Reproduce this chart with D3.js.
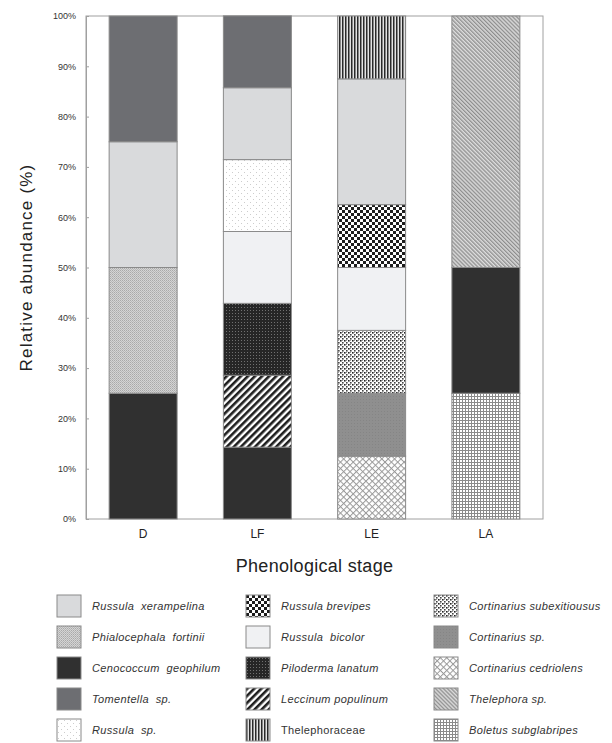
<!DOCTYPE html>
<head>
  <meta charset="utf-8">
  <script src="https://d3js.org/d3.v7.min.js"></script>
  <style>
    body { margin:0; background:#fff; }
    text { font-family: "Liberation Sans", Arial, sans-serif; fill:#222; }
  </style>
</head>

<body>
  <script>

    var width = 612,
        height = 743;

    // phenological stages and taxa (stack order, bottom to top)
    var stages = ["D", "LF", "LE", "LA"];
    var taxa = ["Boletus subglabripes", "Cortinarius cedriolens", "Cortinarius sp.", "Cenococcum geophilum",
                "Cortinarius subexitiousus", "Leccinum populinum", "Phialocephala fortinii", "Piloderma lanatum",
                "Russula bicolor", "Russula brevipes", "Russula sp.", "Russula xerampelina",
                "Thelephora sp.", "Thelephoraceae", "Tomentella sp."];

    // relative abundance (%) per stage, same order as taxa
    var abundD  = [0, 0, 0, 25, 0, 0, 25, 0, 0, 0, 0, 25, 0, 0, 25];
    var abundLF = [0, 0, 0, 14.29, 0, 14.29, 0, 14.29, 14.29, 0, 14.29, 14.29, 0, 0, 14.29];
    var abundLE = [0, 12.5, 12.5, 0, 12.5, 0, 0, 0, 12.5, 12.5, 0, 25, 0, 12.5, 0];
    var abundLA = [25, 0, 0, 25, 0, 0, 0, 0, 0, 0, 0, 0, 50, 0, 0];

    var yTicks = [0, 10, 20, 30, 40, 50, 60, 70, 80, 90, 100];

    // legend columns
    var legendCols = [
      ["Russula xerampelina", "Phialocephala fortinii", "Cenococcum geophilum", "Tomentella sp.", "Russula sp."],
      ["Russula brevipes", "Russula bicolor", "Piloderma lanatum", "Leccinum populinum", "Thelephoraceae"],
      ["Cortinarius subexitiousus", "Cortinarius sp.", "Cortinarius cedriolens", "Thelephora sp.", "Boletus subglabripes"]
    ];
    var legendText = {
      "Russula xerampelina": "Russula  xerampelina",
      "Phialocephala fortinii": "Phialocephala  fortinii",
      "Cenococcum geophilum": "Cenococcum  geophilum",
      "Tomentella sp.": "Tomentella  sp.",
      "Russula sp.": "Russula  sp.",
      "Russula bicolor": "Russula  bicolor"
    };

    var svg = d3.select("body").append("svg")
      .attr("width", width)
      .attr("height", height);

    var defs = svg.append("defs");

    function pat(id, w, h, bg, rot) {
      var p = defs.append("pattern").attr("id", id)
        .attr("patternUnits", "userSpaceOnUse")
        .attr("width", w).attr("height", h);
      if (rot) p.attr("patternTransform", "rotate(" + rot + ")");
      p.append("rect").attr("width", w).attr("height", h).attr("fill", bg);
      return p;
    }

    var p;
    p = pat("phial", 2, 2, "#d4d4d4");
    p.append("rect").attr("width", 1).attr("height", 1).attr("fill", "#a9a9a9");
    p.append("rect").attr("x", 1).attr("y", 1).attr("width", 1).attr("height", 1).attr("fill", "#b8b8b8");

    p = pat("rsp", 6, 6, "#fff");
    p.append("rect").attr("x", 1).attr("y", 1).attr("width", 1).attr("height", 1).attr("fill", "#cdcdcd");
    p.append("rect").attr("x", 4).attr("y", 4).attr("width", 1).attr("height", 1).attr("fill", "#cdcdcd");

    p = pat("brev", 6, 6, "#fff");
    p.append("rect").attr("width", 3).attr("height", 3).attr("fill", "#1e1e1e");
    p.append("rect").attr("x", 3).attr("y", 3).attr("width", 3).attr("height", 3).attr("fill", "#1e1e1e");

    p = pat("pilo", 3, 3, "#262626");
    p.append("rect").attr("x", 1).attr("y", 1).attr("width", 1).attr("height", 1).attr("fill", "#707070");

    p = pat("lecc", 5, 5, "#fff", 45);
    p.append("rect").attr("width", 2.6).attr("height", 5).attr("fill", "#1e1e1e");

    p = pat("thelcae", 3, 3, "#e4e4e4");
    p.append("rect").attr("width", 1.5).attr("height", 3).attr("fill", "#2a2a2a");

    p = pat("subex", 4, 4, "#fff");
    p.append("rect").attr("width", 1.6).attr("height", 1.6).attr("fill", "#222");
    p.append("rect").attr("x", 2).attr("y", 2).attr("width", 1.6).attr("height", 1.6).attr("fill", "#444");
    p.append("rect").attr("x", 2).attr("y", 0).attr("width", 1).attr("height", 1).attr("fill", "#999");

    p = pat("cortsp", 3, 3, "#8f8f8f");
    p.append("rect").attr("width", 1).attr("height", 1).attr("fill", "#858585");

    p = pat("cedr", 4.5, 4.5, "#fff", 45);
    p.append("rect").attr("width", 1).attr("height", 4.5).attr("fill", "#9a9a9a");
    p.append("rect").attr("width", 4.5).attr("height", 1).attr("fill", "#9a9a9a");

    p = pat("thel", 2.8, 2.8, "#dcdcdc", -45);
    p.append("rect").attr("width", 1.3).attr("height", 2.8).attr("fill", "#8e8e8e");

    p = pat("bolet", 3, 3, "#fff");
    p.append("rect").attr("width", 1).attr("height", 3).attr("fill", "#8a8a8a");
    p.append("rect").attr("width", 3).attr("height", 1).attr("fill", "#8a8a8a");

    var fills = d3.scaleOrdinal()
      .domain(taxa)
      .range(["url(#bolet)", "url(#cedr)", "url(#cortsp)", "#303030",
              "url(#subex)", "url(#lecc)", "url(#phial)", "url(#pilo)",
              "#f0f1f3", "url(#brev)", "url(#rsp)", "#d9dadc",
              "url(#thel)", "url(#thelcae)", "#6d6e72"]);

    // table for d3.stack
    var cols = [abundD, abundLF, abundLE, abundLA];
    var rows = stages.map(function(s, i) {
      var r = { stage: s };
      taxa.forEach(function(t, j) { r[t] = cols[i][j]; });
      return r;
    });

    var series = d3.stack().keys(taxa)(rows);

    var plotL = 86, plotR = 543, plotT = 16, plotB = 519;

    var x = d3.scaleBand()
      .domain(stages)
      .range([plotL, plotR])
      .paddingInner(0.405)
      .paddingOuter(0.2025);

    var y = d3.scaleLinear()
      .domain([0, 100])
      .range([plotB, plotT]);

    // frame
    svg.append("rect")
      .attr("x", plotL).attr("y", plotT)
      .attr("width", plotR - plotL).attr("height", plotB - plotT)
      .attr("fill", "none").attr("stroke", "#a0a0a0").attr("stroke-width", 1);

    // y axis
    var yAxis = d3.axisLeft(y)
      .tickValues(yTicks)
      .tickSize(-3)
      .tickPadding(10)
      .tickFormat(function(d) { return d + "%"; });

    var ga = svg.append("g").attr("transform", "translate(" + plotL + ",0)").call(yAxis);
    ga.select(".domain").attr("stroke", "#a0a0a0");
    ga.selectAll(".tick line").attr("stroke", "#a0a0a0");
    ga.selectAll(".tick text").attr("font-size", 9).style("fill", "#333");

    // bars
    svg.append("g").selectAll("g").data(series).enter()
      .append("g")
      .attr("fill", function(d) { return fills(d.key); })
      .selectAll("rect")
      .data(function(d) { return d.filter(function(v) { return v[1] - v[0] > 0; }); })
      .enter().append("rect")
      .attr("x", function(d) { return x(d.data.stage); })
      .attr("y", function(d) { return y(d[1]); })
      .attr("width", x.bandwidth())
      .attr("height", function(d) { return y(d[0]) - y(d[1]); })
      .attr("stroke", "#8a8a8a")
      .attr("stroke-width", 1);

    // x axis labels
    var xAxis = d3.axisBottom(x).tickSize(0).tickPadding(10);
    var gx = svg.append("g").attr("transform", "translate(0," + plotB + ")").call(xAxis);
    gx.select(".domain").remove();
    gx.selectAll(".tick text").attr("font-size", 12).style("fill", "#222");

    // axis titles
    svg.append("text")
      .attr("transform", "translate(32," + ((plotT + plotB) / 2) + ") rotate(-90)")
      .attr("text-anchor", "middle")
      .attr("font-size", 17)
      .style("letter-spacing", "1.2px")
      .text("Relative abundance (%)");

    svg.append("text")
      .attr("x", (plotL + plotR) / 2)
      .attr("y", 572)
      .attr("text-anchor", "middle")
      .attr("font-size", 18)
      .style("letter-spacing", "0.3px")
      .text("Phenological stage");

    // legend
    var colX = [57, 246, 434];
    var rowY = [595, 626, 657, 688, 719];

    legendCols.forEach(function(col, ci) {
      var lg = svg.append("g");
      var item = lg.selectAll("g").data(col).enter().append("g")
        .attr("transform", function(d, i) { return "translate(" + colX[ci] + "," + rowY[i] + ")"; });
      item.append("rect")
        .attr("width", 24).attr("height", 22)
        .attr("fill", function(d) { return fills(d); })
        .attr("stroke", "#8a8a8a");
      item.append("text")
        .attr("x", 35).attr("y", 15)
        .attr("font-size", 11)
        .style("font-style", function(d) { return d === "Thelephoraceae" ? "normal" : "italic"; })
        .style("white-space", "pre")
        .style("letter-spacing", "0.35px")
        .style("fill", "#333")
        .text(function(d) { return legendText[d] || d; });
    });

  </script>
</body>
